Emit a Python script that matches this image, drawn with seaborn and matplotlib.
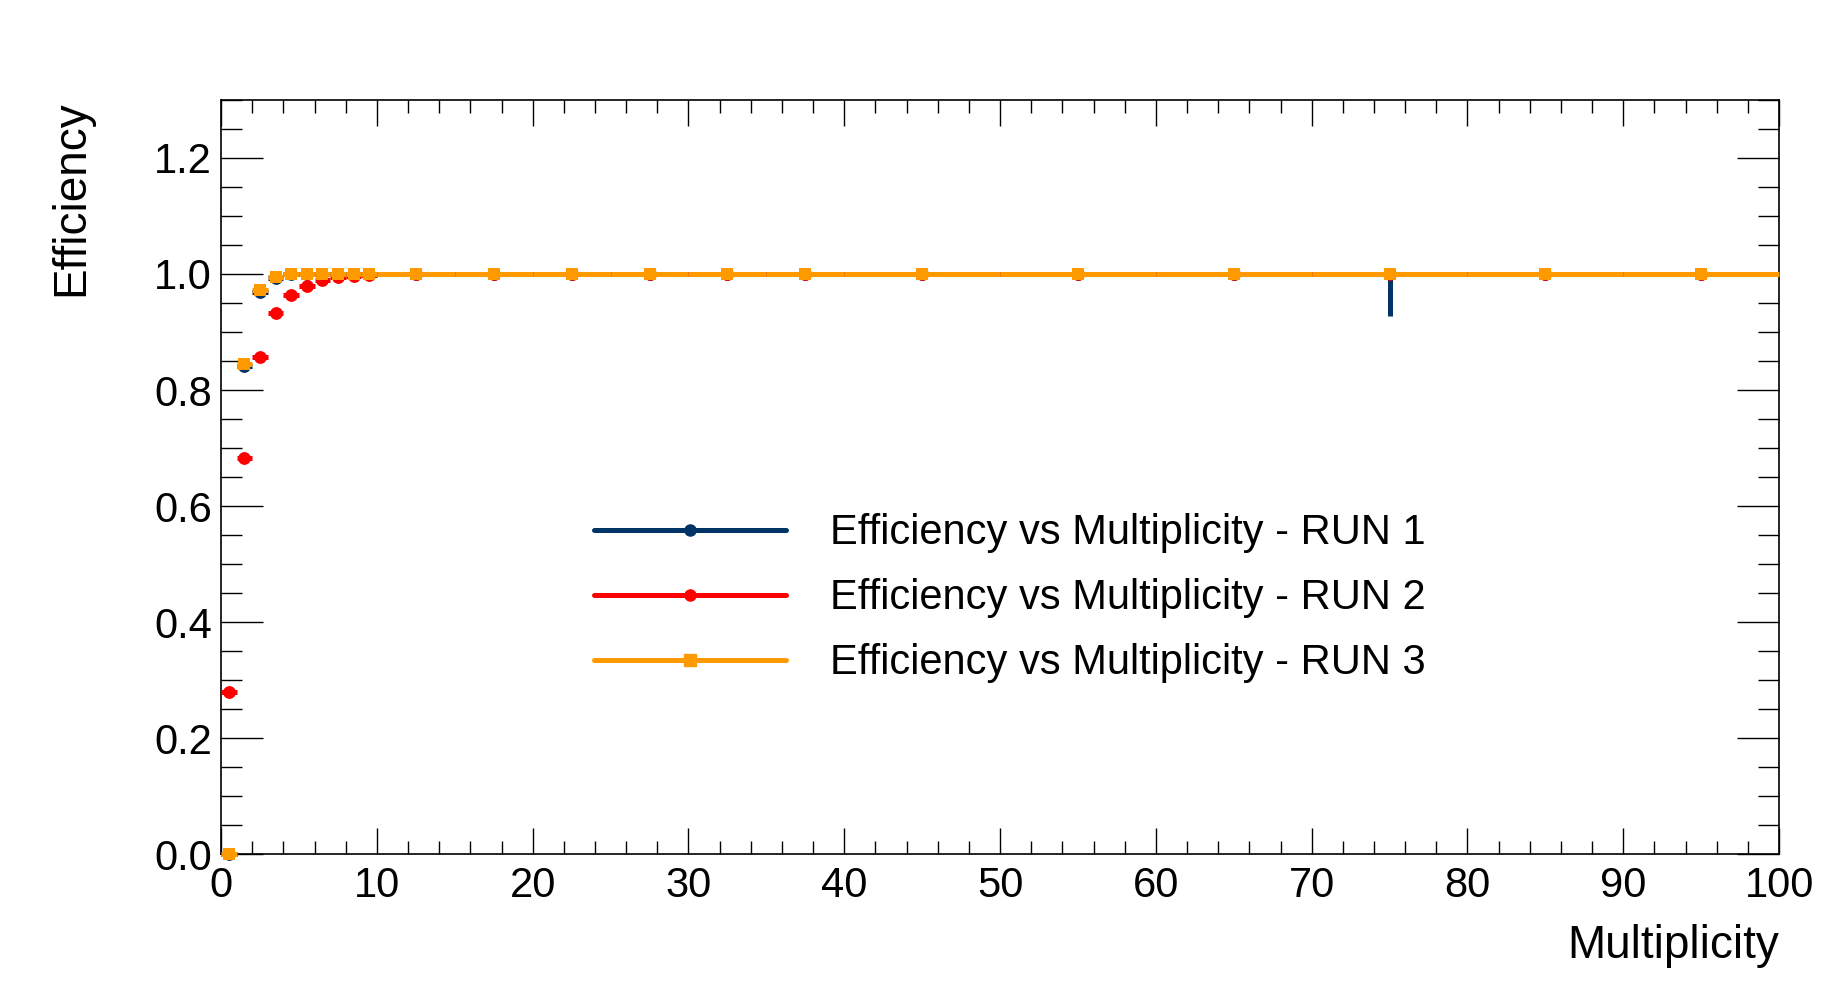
import numpy as np
import pandas as pd
import seaborn as sns
import matplotlib.pyplot as plt
from matplotlib.lines import Line2D
from matplotlib.ticker import MultipleLocator, FormatStrFormatter

# bin centres and half widths (variable binning)
mult = [0.5, 1.5, 2.5, 3.5, 4.5, 5.5, 6.5, 7.5, 8.5, 9.5,
        12.5, 17.5, 22.5, 27.5, 32.5, 37.5, 45, 55, 65, 75, 85, 95]
mult_err = [0.5] * 10 + [2.5] * 6 + [5] * 6

eff_run1 = [0.0, 0.842, 0.969, 0.993, 1.0, 1.0, 1.0, 1.0, 1.0, 1.0,
            1.0, 1.0, 1.0, 1.0, 1.0, 1.0, 1.0, 1.0, 1.0, 1.0, 1.0, 1.0]
eff_run2 = [0.279, 0.683, 0.857, 0.932, 0.964, 0.980, 0.989, 0.994, 0.997, 0.999,
            1.0, 1.0, 1.0, 1.0, 1.0, 1.0, 1.0, 1.0, 1.0, 1.0, 1.0, 1.0]
eff_run3 = [0.0, 0.845, 0.972, 0.994, 1.0, 1.0, 1.0, 1.0, 1.0, 1.0,
            1.0, 1.0, 1.0, 1.0, 1.0, 1.0, 1.0, 1.0, 1.0, 1.0, 1.0, 1.0]
# lower error of run 1 (only the bin at 75 is visible)
eff_run1_low = [0] * 19 + [0.072] + [0, 0]

labels = ['Efficiency vs Multiplicity - RUN 1',
          'Efficiency vs Multiplicity - RUN 2',
          'Efficiency vs Multiplicity - RUN 3']
colors = ['#003366', '#ff0000', '#ff9900']
markers = ['o', 'o', 's']

df = pd.DataFrame({
    'mult': mult * 3,
    'eff': eff_run1 + eff_run2 + eff_run3,
    'run': [labels[0]] * len(mult) + [labels[1]] * len(mult) + [labels[2]] * len(mult),
})

sns.set_style('ticks')
plt.rcParams['font.family'] = ['Liberation Sans', 'DejaVu Sans']
plt.rcParams['text.color'] = 'black'

fig = plt.figure(figsize=(18.44, 9.92), dpi=100)
ax = fig.add_axes([0.1199, 0.1391, 0.8449, 0.7601])

lw = 3.6
for i, lab in enumerate(labels):
    sub = df[df['run'] == lab]
    yerr = None
    if i == 0:
        yerr = [eff_run1_low, [0] * len(mult)]
    ax.errorbar(sub['mult'], sub['eff'], xerr=mult_err, yerr=yerr, fmt='none',
                ecolor=colors[i], elinewidth=lw, capsize=0, zorder=2 + i, clip_on=False)
    sns.scatterplot(x='mult', y='eff', data=sub, ax=ax, color=colors[i],
                    marker=markers[i], s=85, linewidth=0, zorder=2.5 + i,
                    clip_on=False, legend=False)

ax.set_xlim(0, 100)
ax.set_ylim(0, 1.3)
ax.xaxis.set_major_locator(MultipleLocator(10))
ax.xaxis.set_minor_locator(MultipleLocator(2))
ax.yaxis.set_major_locator(MultipleLocator(0.2))
ax.yaxis.set_minor_locator(MultipleLocator(0.05))
ax.yaxis.set_major_formatter(FormatStrFormatter('%.1f'))
ax.tick_params(which='both', direction='in', top=True, right=True, width=1.0,
               labelsize=30, colors='black')
ax.tick_params(axis='x', which='major', length=18.7, pad=8.5)
ax.tick_params(axis='x', which='minor', length=9.4)
ax.tick_params(axis='y', which='major', length=30, pad=6.5)
ax.tick_params(axis='y', which='minor', length=15)
for s in ax.spines.values():
    s.set_linewidth(1.2)
    s.set_color('black')

ax.set_xlabel('Multiplicity', fontsize=33, loc='right', labelpad=13, color='black')
ax.set_ylabel('Efficiency', fontsize=33, loc='top', labelpad=44, color='black')

handles = [Line2D([], [], color=colors[i], lw=lw, marker=markers[i], markersize=8)
           for i in range(3)]
leg = ax.legend(handles, labels, loc='center left', bbox_to_anchor=(0.2394, 0.339),
                frameon=False, fontsize=30, handlelength=4.6, handletextpad=1.07,
                labelspacing=0.6, borderpad=0, borderaxespad=0, numpoints=1)
for t in leg.get_texts():
    t.set_color('black')

fig.savefig('out.png', dpi=100, facecolor='white')
